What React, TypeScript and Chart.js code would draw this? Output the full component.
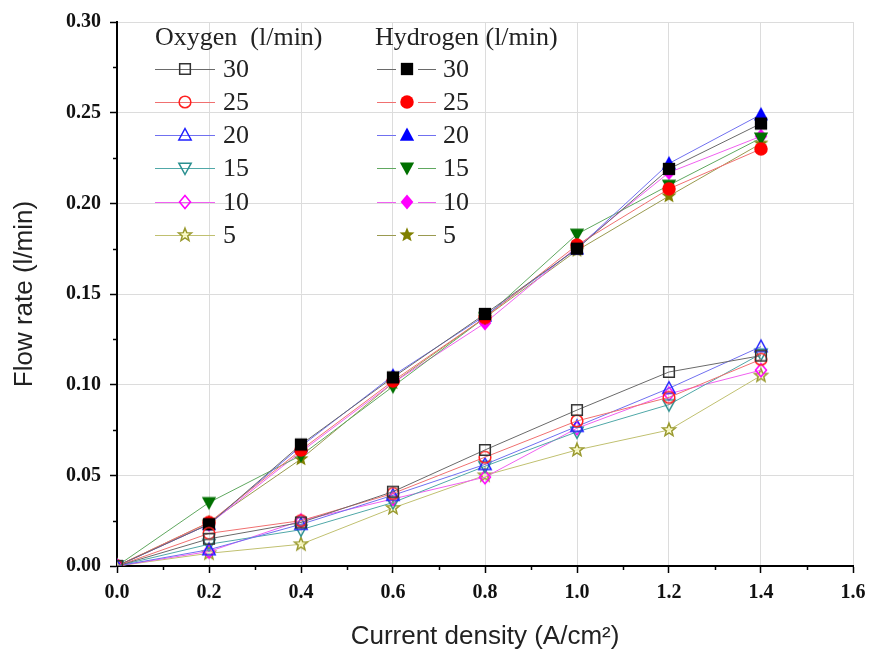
import React, { useEffect, useRef } from 'react';
import { Chart, registerables } from 'chart.js';
Chart.register(...registerables);

// ---- data ----
const currentDensity = [0, 0.2, 0.4, 0.6, 0.8, 1.0, 1.2, 1.4];
const flowLabels = ['30', '25', '20', '15', '10', '5'];

const oxygen30 = [0, 0.015, 0.024, 0.041, 0.064, 0.086, 0.107, 0.116];
const oxygen25 = [0, 0.018, 0.025, 0.040, 0.060, 0.080, 0.093, 0.114];
const oxygen20 = [0, 0.009, 0.023, 0.039, 0.056, 0.077, 0.098, 0.121];
const oxygen15 = [0, 0.012, 0.020, 0.035, 0.055, 0.074, 0.089, 0.117];
const oxygen10 = [0, 0.008, 0.025, 0.037, 0.049, 0.076, 0.095, 0.108];
const oxygen5 = [0, 0.007, 0.012, 0.032, 0.050, 0.064, 0.075, 0.105];

const hydrogen30 = [0, 0.023, 0.067, 0.104, 0.139, 0.175, 0.219, 0.244];
const hydrogen25 = [0, 0.024, 0.064, 0.102, 0.137, 0.177, 0.208, 0.230];
const hydrogen20 = [0, 0.023, 0.066, 0.105, 0.138, 0.175, 0.222, 0.249];
const hydrogen15 = [0, 0.035, 0.061, 0.099, 0.137, 0.183, 0.210, 0.236];
const hydrogen10 = [0, 0.023, 0.063, 0.101, 0.134, 0.176, 0.217, 0.237];
const hydrogen5 = [0, 0.024, 0.059, 0.101, 0.137, 0.174, 0.204, 0.233];

const oxygenSeries = [oxygen30, oxygen25, oxygen20, oxygen15, oxygen10, oxygen5];
const hydrogenSeries = [hydrogen30, hydrogen25, hydrogen20, hydrogen15, hydrogen10, hydrogen5];

const xTickStep = 0.2;
const yTickStep = 0.05;

// ---- styles ----
const shapes = ['square', 'circle', 'triUp', 'triDown', 'diamond', 'star'];
const oxyLine = ['#6a6a6a', '#f07070', '#7070f0', '#50a8a8', '#f060f0', '#c0c070'];
const oxyMark = ['#333333', '#ff2020', '#2020ff', '#2a9090', '#ff00ff', '#9a9a30'];
const hydLine = ['#6a6a6a', '#f07070', '#7070f0', '#60a860', '#f060f0', '#9a9a50'];
const hydMark = ['#000000', '#ff0000', '#0000ff', '#007000', '#ff00ff', '#808000'];

function shapePath(ctx: CanvasRenderingContext2D, shape: string, cx: number, cy: number, r: number) {
  ctx.beginPath();
  if (shape === 'square') {
    const h = r * 0.82;
    ctx.rect(cx - h, cy - h, 2 * h, 2 * h);
  } else if (shape === 'circle') {
    ctx.arc(cx, cy, r * 0.9, 0, Math.PI * 2);
  } else if (shape === 'triUp') {
    ctx.moveTo(cx, cy - r);
    ctx.lineTo(cx + r * 0.95, cy + r * 0.75);
    ctx.lineTo(cx - r * 0.95, cy + r * 0.75);
    ctx.closePath();
  } else if (shape === 'triDown') {
    ctx.moveTo(cx, cy + r);
    ctx.lineTo(cx + r * 0.95, cy - r * 0.75);
    ctx.lineTo(cx - r * 0.95, cy - r * 0.75);
    ctx.closePath();
  } else if (shape === 'diamond') {
    ctx.moveTo(cx, cy - r);
    ctx.lineTo(cx + r * 0.85, cy);
    ctx.lineTo(cx, cy + r);
    ctx.lineTo(cx - r * 0.85, cy);
    ctx.closePath();
  } else {
    for (let i = 0; i < 10; i++) {
      const rr = i % 2 === 0 ? r * 1.05 : r * 0.45;
      const a = -Math.PI / 2 + (i * Math.PI) / 5;
      const px = cx + rr * Math.cos(a);
      const py = cy + rr * Math.sin(a);
      if (i === 0) ctx.moveTo(px, py);
      else ctx.lineTo(px, py);
    }
    ctx.closePath();
  }
}

function makeMarker(shape: string, color: string, filled: boolean, r: number, starFill?: string) {
  const size = 22;
  const c = document.createElement('canvas');
  c.width = size;
  c.height = size;
  const ctx = c.getContext('2d')!;
  shapePath(ctx, shape, size / 2, size / 2, r);
  if (filled) {
    ctx.fillStyle = color;
    ctx.fill();
  } else {
    if (starFill) {
      ctx.fillStyle = starFill;
      ctx.fill();
    }
    ctx.lineWidth = 1.5;
    ctx.strokeStyle = color;
    ctx.stroke();
  }
  return c;
}

export default function App() {
  const ref = useRef<HTMLCanvasElement | null>(null);

  useEffect(() => {
    if (!ref.current) return;
    const oxyMarkers = shapes.map((s, i) => makeMarker(s, oxyMark[i], false, 6.5, s === 'star' ? 'rgba(250,250,190,0.8)' : undefined));
    const hydMarkers = shapes.map((s, i) => makeMarker(s, hydMark[i], true, 7.5));

    const datasets: any[] = [];
    oxygenSeries.forEach((vals, i) => {
      datasets.push({
        label: 'Oxygen ' + flowLabels[i],
        data: currentDensity.map((x, k) => ({ x, y: vals[k] })),
        borderColor: oxyLine[i],
        borderWidth: 1,
        pointStyle: oxyMarkers[i],
        pointRadius: 7,
        fill: false,
        tension: 0,
      });
    });
    hydrogenSeries.forEach((vals, i) => {
      datasets.push({
        label: 'Hydrogen ' + flowLabels[i],
        data: currentDensity.map((x, k) => ({ x, y: vals[k] })),
        borderColor: hydLine[i],
        borderWidth: 1,
        pointStyle: hydMarkers[i],
        pointRadius: 7,
        fill: false,
        tension: 0,
      });
    });

    const minorTicks = {
      id: 'minorTicks',
      afterDraw(chart: any) {
        const { ctx, chartArea, scales } = chart;
        ctx.save();
        ctx.strokeStyle = '#000';
        ctx.lineWidth = 1.5;
        for (let v = xTickStep / 2; v < 1.6; v += xTickStep) {
          const px = Math.round(scales.x.getPixelForValue(v)) + 0.5;
          ctx.beginPath();
          ctx.moveTo(px, chartArea.bottom);
          ctx.lineTo(px, chartArea.bottom + 4);
          ctx.stroke();
        }
        for (let v = yTickStep / 2; v < 0.3; v += yTickStep) {
          const py = Math.round(scales.y.getPixelForValue(v)) + 0.5;
          ctx.beginPath();
          ctx.moveTo(chartArea.left, py);
          ctx.lineTo(chartArea.left - 4, py);
          ctx.stroke();
        }
        ctx.restore();
      },
    };

    const customLegend = {
      id: 'customLegend',
      afterDraw(chart: any) {
        const { ctx } = chart;
        ctx.save();
        ctx.fillStyle = '#222';
        ctx.textBaseline = 'middle';
        ctx.textAlign = 'left';
        ctx.font = '26px "Liberation Serif", "Times New Roman", serif';
        ctx.fillText('Oxygen  (l/min)', 155, 38);
        ctx.fillText('Hydrogen (l/min)', 375, 38);
        const rowY = [69, 102, 135, 168, 202, 235];
        for (let i = 0; i < 6; i++) {
          const y = rowY[i];
          ctx.strokeStyle = oxyLine[i];
          ctx.lineWidth = 1;
          ctx.beginPath();
          ctx.moveTo(155, y + 0.5);
          ctx.lineTo(215, y + 0.5);
          ctx.stroke();
          ctx.drawImage(oxyMarkers[i], 185 - 11, y - 11);
          ctx.fillStyle = '#222';
          ctx.fillText(flowLabels[i], 223, y + 1);
          ctx.strokeStyle = hydLine[i];
          ctx.beginPath();
          ctx.moveTo(377, y + 0.5);
          ctx.lineTo(396, y + 0.5);
          ctx.moveTo(418, y + 0.5);
          ctx.lineTo(436, y + 0.5);
          ctx.stroke();
          ctx.drawImage(hydMarkers[i], 407 - 11, y - 11);
          ctx.fillText(flowLabels[i], 443, y + 1);
        }
        ctx.restore();
      },
    };

    const tickFont = { family: '"Liberation Serif", "Times New Roman", serif', size: 20, weight: 'bold' as const };
    const titleFont = { family: '"Liberation Sans", Arial, sans-serif', size: 26 };

    const chart = new Chart(ref.current, {
      type: 'line',
      data: { datasets },
      plugins: [minorTicks, customLegend],
      options: {
        responsive: false,
        animation: false,
        layout: { padding: { left: 5, top: 22, right: 17, bottom: 0 } },
        plugins: { legend: { display: false }, tooltip: { enabled: false } },
        scales: {
          x: {
            type: 'linear',
            min: 0,
            max: 1.6,
            ticks: {
              stepSize: xTickStep,
              color: '#111',
              font: tickFont,
              padding: 8,
              callback: (v: any) => Number(v).toFixed(1),
            },
            grid: { color: '#dcdcdc', lineWidth: 1, tickColor: '#000', tickLength: 7, tickWidth: 1.5 },
            border: { color: '#000', width: 2 },
            title: { display: true, text: 'Current density (A/cm²)', color: '#222', font: titleFont, padding: { top: 4, bottom: 2 } },
            afterFit: (s: any) => { s.height = 88; s.paddingRight = 0; s.paddingLeft = 0; },
          },
          y: {
            type: 'linear',
            min: 0,
            max: 0.3,
            ticks: {
              stepSize: yTickStep,
              color: '#111',
              font: tickFont,
              padding: 9,
              callback: (v: any) => Number(v).toFixed(2),
            },
            grid: { color: '#dcdcdc', lineWidth: 1, tickColor: '#000', tickLength: 7, tickWidth: 1.5 },
            border: { color: '#000', width: 2 },
            title: { display: true, text: 'Flow rate (l/min)', color: '#222', font: titleFont, padding: { top: 4, bottom: 4 } },
            afterFit: (s: any) => { s.width = 112; },
          },
        },
      },
    });
    return () => chart.destroy();
  }, []);

  return (
    <div style={{ position: 'absolute', left: 0, top: 0, width: 870, height: 654, background: '#fff' }}>
      <canvas ref={ref} width={870} height={654} style={{ display: 'block' }} />
    </div>
  );
}
